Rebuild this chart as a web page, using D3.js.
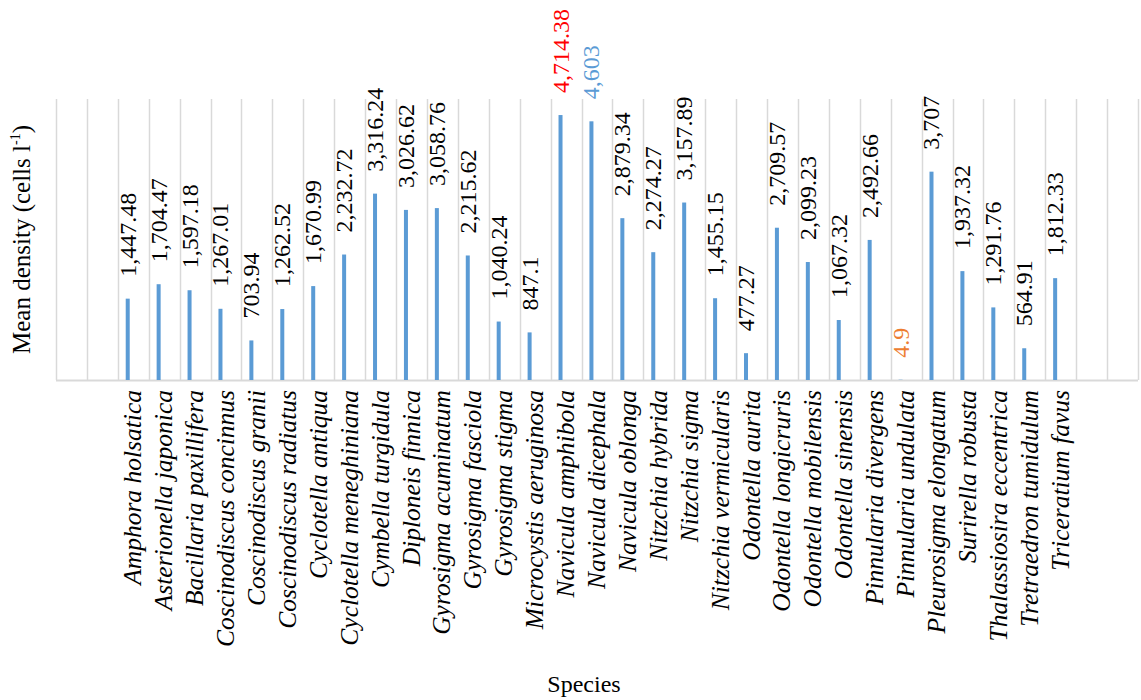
<!DOCTYPE html>
<html>
<head>
<meta charset="utf-8">
<script src="https://cdn.jsdelivr.net/npm/d3@7"></script>
<style>
  html, body { margin: 0; padding: 0; background: #fff; }
  svg text { font-family: "Liberation Serif", "DejaVu Serif", serif; }
</style>
</head>
<body>
<svg id="chart" width="1141" height="700"></svg>
<script>
// Species on the category axis
const species = [
  "Amphora holsatica", "Asterionella japonica", "Bacillaria paxillifera",
  "Coscinodiscus concinnus", "Coscinodiscus granii", "Coscinodiscus radiatus",
  "Cyclotella antiqua", "Cyclotella meneghiniana", "Cymbella turgidula",
  "Diploneis finnica", "Gyrosigma acuminatum", "Gyrosigma fasciola",
  "Gyrosigma stigma", "Microcystis aeruginosa", "Navicula amphibola",
  "Navicula dicephala", "Navicula oblonga", "Nitzchia hybrida", "Nitzchia sigma",
  "Nitzchia vermicularis", "Odontella aurita", "Odontella longicruris",
  "Odontella mobilensis", "Odontella sinensis", "Pinnularia divergens",
  "Pinnularia undulata", "Pleurosigma elongatum", "Surirella robusta",
  "Thalassiosira eccentrica", "Tretraedron tumidulum", "Triceratium favus"
];

// Mean density (cells l-1) per species
const density = [
  1447.48, 1704.47, 1597.18, 1267.01, 703.94, 1262.52, 1670.99, 2232.72,
  3316.24, 3026.62, 3058.76, 2215.62, 1040.24, 847.1, 4714.38, 4603,
  2879.34, 2274.27, 3157.89, 1455.15, 477.27, 2709.57, 2099.23, 1067.32,
  2492.66, 4.9, 3707, 1937.32, 1291.76, 564.91, 1812.33
];

// Label colours that differ from the default
const labelColor = {
  "Navicula amphibola": "#ff0000",
  "Navicula dicephala": "#5b9bd5",
  "Pinnularia undulata": "#ed7d31"
};

const yDomain = [0, 5000];

const svg = d3.select("#chart");
const margin = { left: 56, right: 3, top: 99, bottom: 320 };
const W = 1141, H = 700;
const plotBottom = H - margin.bottom; // 380

// Two empty slots on each side of the species
const slots = ["_a", "_b", ...species, "_c", "_d"];
const x = d3.scaleBand().domain(slots).range([margin.left, W - margin.right]).padding(0);
const y = d3.scaleLinear().domain(yDomain).range([plotBottom, margin.top]);

const fmt = d => d3.format(",")(d);

// vertical category gridlines
const bounds = slots.map(s => x(s)).concat([x(slots[slots.length - 1]) + x.bandwidth()]);
svg.append("g")
  .selectAll("line")
  .data(bounds)
  .join("line")
  .attr("x1", d => Math.round(d) + 0.5).attr("x2", d => Math.round(d) + 0.5)
  .attr("y1", y(yDomain[1])).attr("y2", plotBottom)
  .attr("stroke", "#d9d9d9").attr("stroke-width", 1.5);

// category axis line
svg.append("line")
  .attr("x1", margin.left).attr("x2", W - margin.right)
  .attr("y1", plotBottom + 0.5).attr("y2", plotBottom + 0.5)
  .attr("stroke", "#d9d9d9").attr("stroke-width", 2);

const data = species.map((s, i) => ({ name: s, value: density[i] }));
const barW = 4;
const barOff = x.bandwidth() * 0.32;

// bars
svg.append("g")
  .selectAll("rect")
  .data(data)
  .join("rect")
  .attr("x", d => x(d.name) + barOff - barW / 2)
  .attr("y", d => y(d.value))
  .attr("width", barW)
  .attr("height", d => plotBottom - y(d.value))
  .attr("fill", "#5b9bd5");

// value labels, rotated
svg.append("g")
  .selectAll("text")
  .data(data)
  .join("text")
  .attr("transform", d => `translate(${x(d.name) + barOff + 8},${y(d.value) - 22}) rotate(-90)`)
  .attr("text-anchor", "start")
  .attr("font-size", 24)
  .attr("fill", d => labelColor[d.name] || "#000")
  .text(d => fmt(d.value));

// category labels, rotated and italic
svg.append("g")
  .selectAll("text")
  .data(species)
  .join("text")
  .attr("transform", d => `translate(${x(d) + x.bandwidth() / 2 + 8},${plotBottom + 10}) rotate(-90)`)
  .attr("text-anchor", "end")
  .attr("font-size", 25.5)
  .attr("font-style", "italic")
  .attr("fill", "#000")
  .text(d => d);

// y axis title
const yt = svg.append("text")
  .attr("transform", `translate(30,${(margin.top + plotBottom) / 2}) rotate(-90)`)
  .attr("text-anchor", "middle")
  .attr("font-size", 25)
  .attr("fill", "#000");
yt.append("tspan").text("Mean density (cells l");
yt.append("tspan").attr("font-size", 14).attr("dy", -10).text("-1");
yt.append("tspan").attr("dy", 10).text(")");

// x axis title
svg.append("text")
  .attr("x", 584).attr("y", 692)
  .attr("text-anchor", "middle")
  .attr("font-size", 24)
  .attr("fill", "#000")
  .text("Species");
</script>
</body>
</html>
